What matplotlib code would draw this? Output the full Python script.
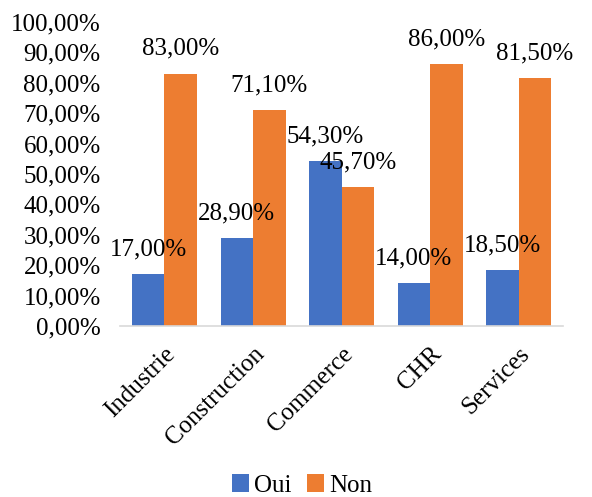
import matplotlib.pyplot as plt
import numpy as np

categories = ['Industrie', 'Construction', 'Commerce', 'CHR', 'Services']
oui = [17.0, 28.9, 54.3, 14.0, 18.5]
non = [83.0, 71.1, 45.7, 86.0, 81.5]

plt.rcParams['font.family'] = ['Liberation Serif', 'DejaVu Serif']

def fmt(v):
    return f'{v:.2f}%'.replace('.', ',')

fig = plt.figure(figsize=(5.92, 4.97), dpi=100)
ax = fig.add_axes([0.203, 0.344, 0.748, 0.612])

x = np.arange(len(categories))
w = 0.367
b1 = ax.bar(x - w / 2, oui, w, color='#4472C4', label='Oui')
b2 = ax.bar(x + w / 2, non, w, color='#ED7D31', label='Non')

for bars, vals in ((b1, oui), (b2, non)):
    for r, v in zip(bars, vals):
        ax.text(r.get_x() + r.get_width() / 2, v + 4.5, fmt(v),
                ha='center', va='bottom', fontsize=18)

ax.set_ylim(0, 100)
ax.set_xlim(-0.5, len(categories) - 0.5)
ax.set_yticks(np.arange(0, 101, 10))
ax.set_yticklabels([fmt(t) for t in range(0, 101, 10)], fontsize=18)
ax.set_xticks(x)
ax.set_xticklabels(categories, fontsize=18, rotation=45, ha='right',
                   rotation_mode='anchor')
ax.tick_params(axis='y', length=0, pad=14)
ax.tick_params(axis='x', length=0, pad=12)

for s in ('top', 'right', 'left'):
    ax.spines[s].set_visible(False)
ax.spines['bottom'].set_color('#D9D9D9')
ax.spines['bottom'].set_linewidth(1.2)

fig.legend(handles=[b1, b2], labels=['Oui', 'Non'], loc='lower center',
           bbox_to_anchor=(0.51, -0.045), ncol=2, frameon=False, fontsize=18,
           handlelength=0.7, handleheight=0.7, handletextpad=0.2,
           columnspacing=0.6)

fig.savefig('out.png', dpi=100)
